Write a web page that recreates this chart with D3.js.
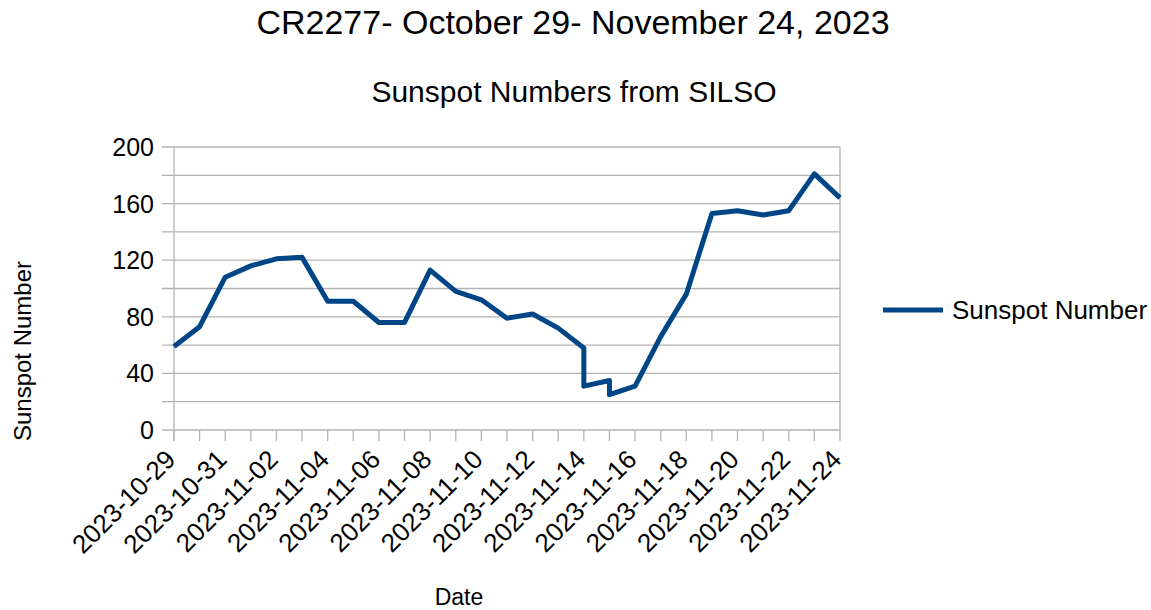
<!DOCTYPE html>
<html>
<head>
<meta charset="utf-8">
<script src="https://cdn.jsdelivr.net/npm/d3@7"></script>
<style>
  body { margin: 0; background: #fff; }
  svg { font-family: "Liberation Sans", Arial, sans-serif; }
</style>
</head>
<body>
<div id="chart"></div>
<script>
// Data: daily sunspot numbers (two readings on 11-14 and 11-15)
const dates = [
    '2023-10-29', '2023-10-30', '2023-10-31', '2023-11-01', '2023-11-02',
    '2023-11-03', '2023-11-04', '2023-11-05', '2023-11-06', '2023-11-07',
    '2023-11-08', '2023-11-09', '2023-11-10', '2023-11-11', '2023-11-12',
    '2023-11-13', '2023-11-14', '2023-11-14', '2023-11-15', '2023-11-15',
    '2023-11-16', '2023-11-17', '2023-11-18', '2023-11-19', '2023-11-20',
    '2023-11-21', '2023-11-22', '2023-11-23', '2023-11-24'
];
const sunspots = [
    59, 73, 108, 116, 121,
    122, 91, 91, 76, 76,
    113, 98, 92, 79, 82,
    72, 58, 31, 35, 25,
    31, 66, 96, 153, 155,
    152, 155, 181, 164
];
const yTicks = [0, 40, 80, 120, 160, 200];
const yGrid = [0, 20, 40, 60, 80, 100, 120, 140, 160, 180, 200];

const width = 1151, height = 610;
const plot = { left: 174, right: 840, top: 147, bottom: 430 };
const lineColor = '#004586';
const gridColor = '#b3b3b3';

const parse = d3.utcParse('%Y-%m-%d');
const fmt = d3.utcFormat('%Y-%m-%d');
const data = dates.map((d, i) => ({ date: parse(d), value: sunspots[i] }));

const svg = d3.select('#chart')
    .append('svg')
    .attr('width', width)
    .attr('height', height);

const x = d3.scaleUtc()
    .domain([parse(dates[0]), parse(dates[dates.length - 1])])
    .range([plot.left, plot.right]);

const y = d3.scaleLinear()
    .domain([0, 200])
    .range([plot.bottom, plot.top]);

// Titles
svg.append('text')
    .attr('x', 573).attr('y', 34)
    .attr('text-anchor', 'middle')
    .attr('font-size', '34px')
    .attr('fill', '#000')
    .text('CR2277- October 29- November 24, 2023');

svg.append('text')
    .attr('x', 574).attr('y', 102)
    .attr('text-anchor', 'middle')
    .attr('font-size', '30px')
    .attr('fill', '#000')
    .text('Sunspot Numbers from SILSO');

// Horizontal gridlines (major + minor)
svg.append('g')
    .selectAll('line')
    .data(yGrid)
    .enter()
    .append('line')
    .attr('x1', plot.left - 12)
    .attr('x2', plot.right)
    .attr('y1', d => y(d))
    .attr('y2', d => y(d))
    .attr('stroke', gridColor)
    .attr('stroke-width', 1.3);

// Left axis line and right border
svg.append('line')
    .attr('x1', plot.left).attr('x2', plot.left)
    .attr('y1', plot.top).attr('y2', plot.bottom + 11)
    .attr('stroke', gridColor).attr('stroke-width', 1.3);
svg.append('line')
    .attr('x1', plot.right).attr('x2', plot.right)
    .attr('y1', plot.top).attr('y2', plot.bottom)
    .attr('stroke', gridColor).attr('stroke-width', 1.3);

// Y tick labels
svg.append('g')
    .selectAll('text')
    .data(yTicks)
    .enter()
    .append('text')
    .attr('x', 154)
    .attr('y', d => y(d))
    .attr('dy', '0.36em')
    .attr('text-anchor', 'end')
    .attr('font-size', '25px')
    .attr('fill', '#000')
    .text(d => d);

// X ticks: every day
const days = d3.utcDay.range(x.domain()[0], d3.utcDay.offset(x.domain()[1], 1));
svg.append('g')
    .selectAll('line')
    .data(days)
    .enter()
    .append('line')
    .attr('x1', d => x(d)).attr('x2', d => x(d))
    .attr('y1', plot.bottom).attr('y2', plot.bottom + 11)
    .attr('stroke', gridColor)
    .attr('stroke-width', 1.3);

// X tick labels: every second day, rotated
svg.append('g')
    .selectAll('text')
    .data(days.filter((d, i) => i % 2 === 0))
    .enter()
    .append('text')
    .attr('transform', d => `translate(${x(d) - 10},${plot.bottom + 18}) rotate(-45)`)
    .attr('dy', '0.71em')
    .attr('text-anchor', 'end')
    .attr('font-size', '26px')
    .attr('fill', '#000')
    .text(d => fmt(d));

// Axis titles
svg.append('text')
    .attr('x', 459).attr('y', 605)
    .attr('text-anchor', 'middle')
    .attr('font-size', '23px')
    .attr('fill', '#000')
    .text('Date');

svg.append('text')
    .attr('transform', 'translate(31,351) rotate(-90)')
    .attr('text-anchor', 'middle')
    .attr('font-size', '24px')
    .attr('fill', '#000')
    .text('Sunspot Number');

// Series line
const line = d3.line()
    .x(d => x(d.date))
    .y(d => y(d.value));

svg.append('path')
    .datum(data)
    .attr('d', line)
    .attr('fill', 'none')
    .attr('stroke', lineColor)
    .attr('stroke-width', 5)
    .attr('stroke-linejoin', 'round');

// Legend
svg.append('line')
    .attr('x1', 883).attr('x2', 943)
    .attr('y1', 310).attr('y2', 310)
    .attr('stroke', lineColor)
    .attr('stroke-width', 5);
svg.append('text')
    .attr('x', 952).attr('y', 310)
    .attr('dy', '0.36em')
    .attr('font-size', '26px')
    .attr('fill', '#000')
    .text('Sunspot Number');
</script>
</body>
</html>
